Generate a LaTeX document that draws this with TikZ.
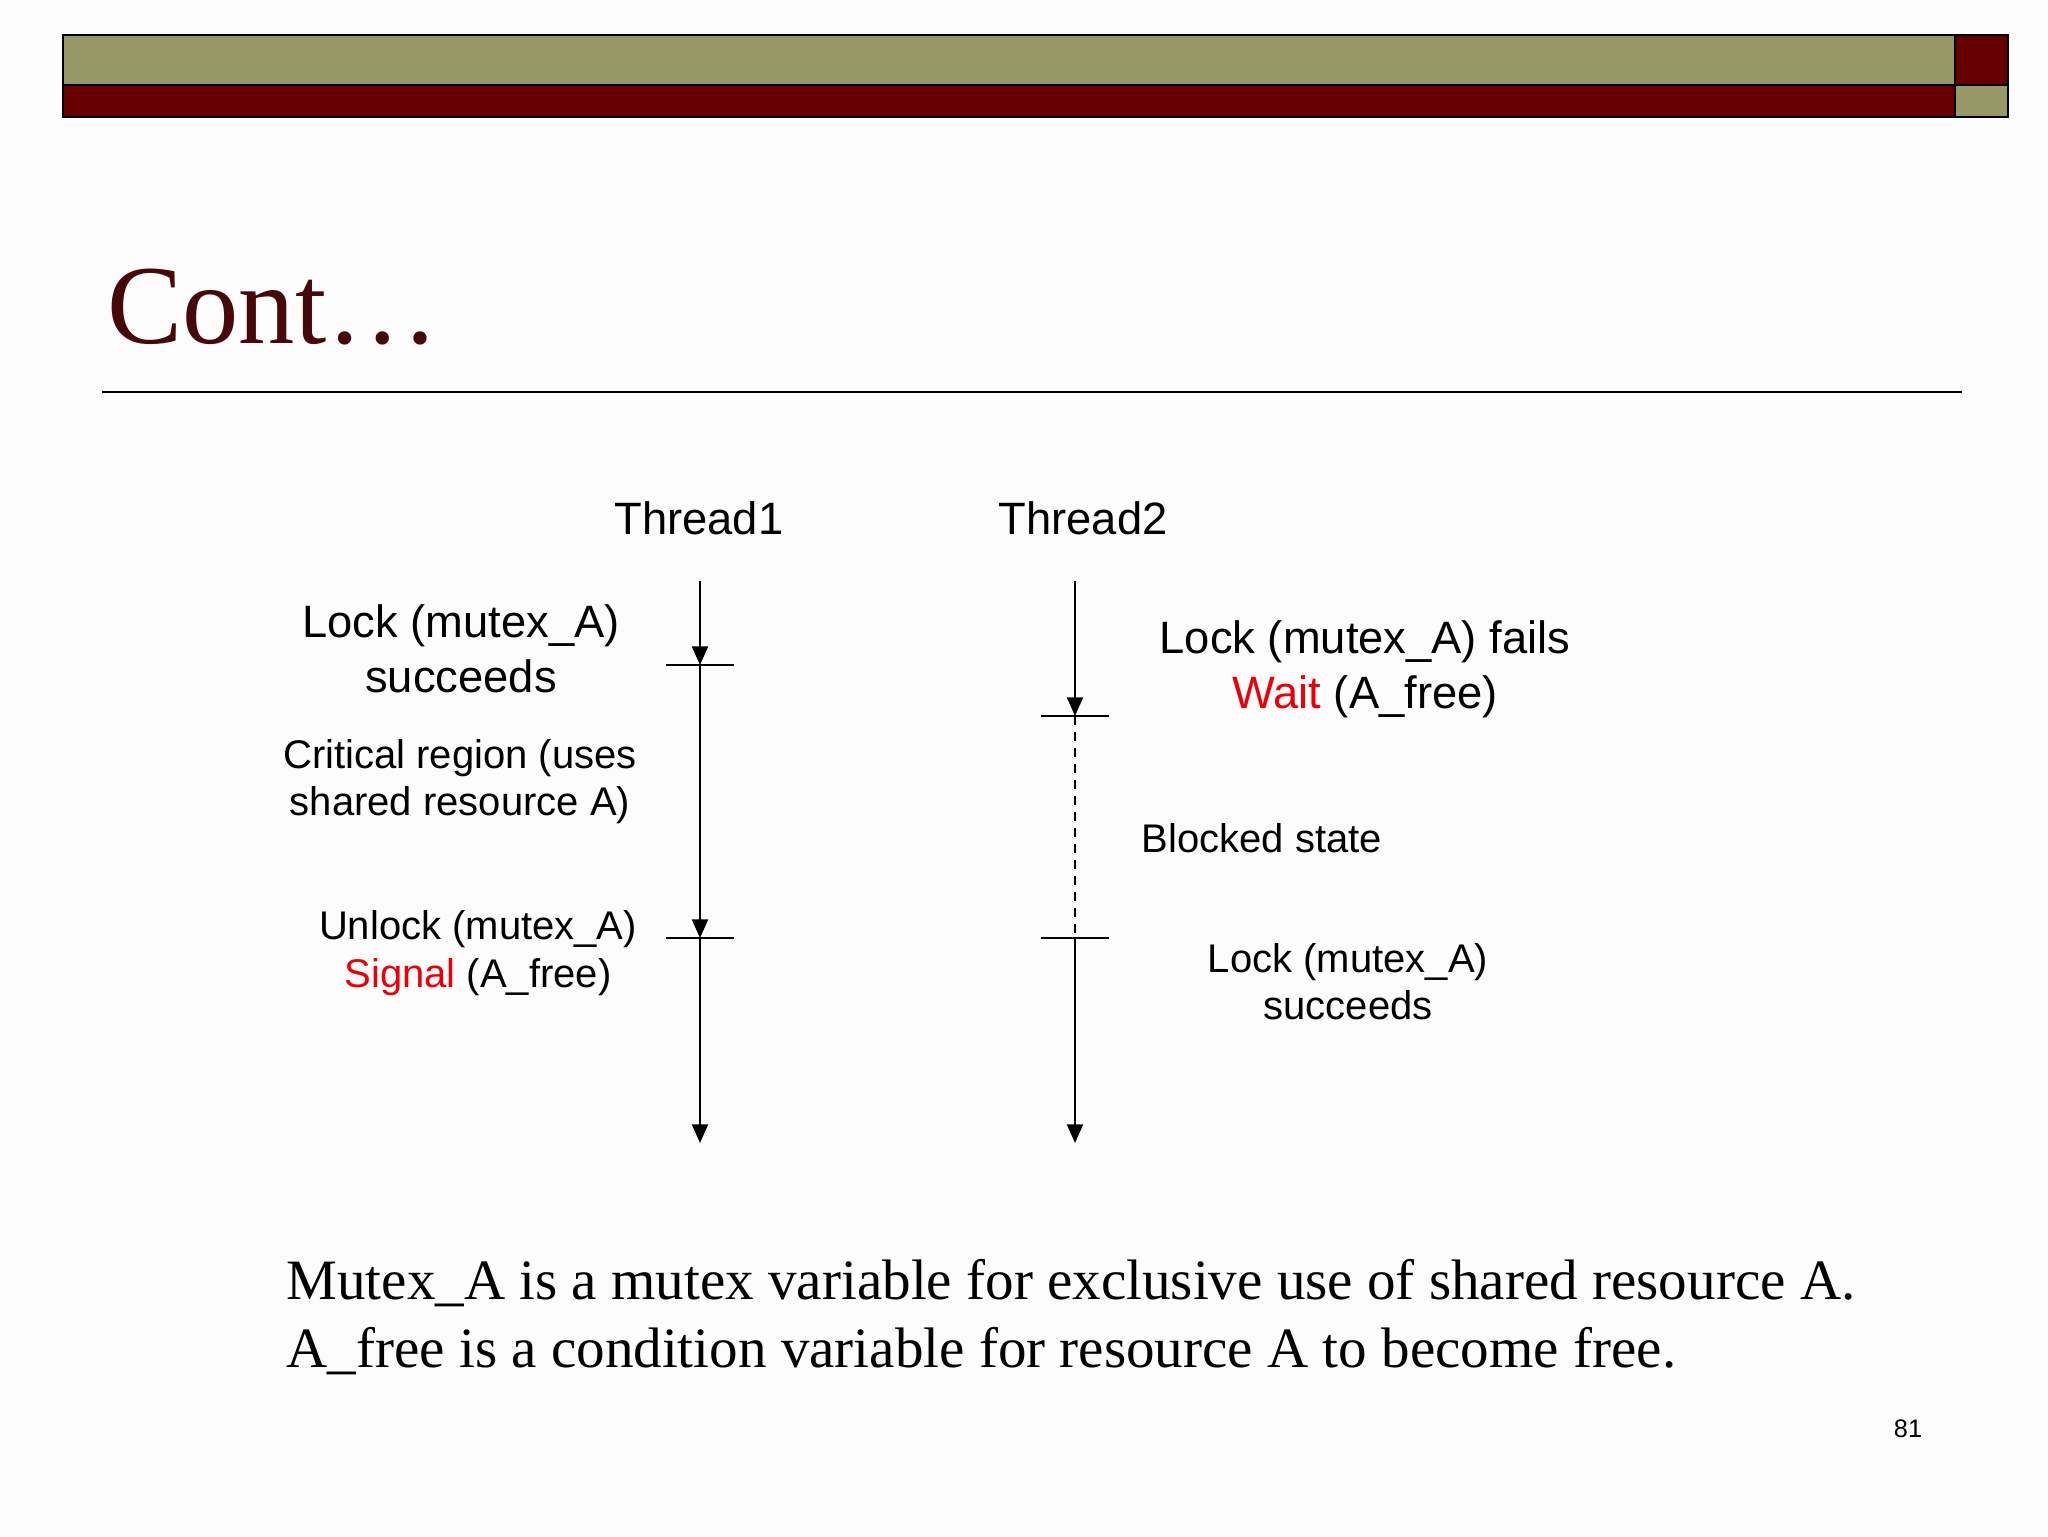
\documentclass[tikz,border=0pt]{standalone}
\usepackage{fontspec}
\setmainfont{Liberation Serif}
\setsansfont{Liberation Sans}
\usetikzlibrary{arrows.meta}

\definecolor{olivebar}{RGB}{150,153,101}
\definecolor{maroonbar}{RGB}{102,0,0}
\definecolor{titlered}{RGB}{70,8,8}
\definecolor{signalred}{RGB}{235,0,10}

\tikzset{
  timeline/.style={line width=0.8pt, -{Triangle[length=7pt,width=6pt]}},
  tick/.style={line width=0.8pt},
  lbl/.style={font=\sffamily\fontsize{15pt}{17.6pt}\selectfont, align=center, inner sep=0pt},
  biglbl/.style={font=\sffamily\fontsize{17pt}{20.5pt}\selectfont, align=center, inner sep=0pt},
}

\begin{document}
\begin{tikzpicture}[x=0.375pt,y=0.375pt,yscale=-1,xscale=1]
\useasboundingbox (0,0) rectangle (2048,1536);
\fill [white!98!gray] (0,0) rectangle (2048,1536);

% --- 1. header bars ---
\draw [fill=olivebar, line width=1.1pt] (63,35) rectangle (1955,85);
\draw [fill=maroonbar, line width=1.1pt] (63,85) rectangle (1955,117);
\draw [fill=maroonbar, line width=1.1pt] (1955,35) rectangle (2008,85);
\draw [fill=olivebar, line width=1.1pt] (1955,85) rectangle (2008,117);

% --- 2. title and rule ---
\node (title) [anchor=base west, inner sep=0pt, text=titlered,
  font=\fontsize{42.2pt}{50pt}\selectfont] at (107,343) {Cont…};
\draw [line width=0.8pt] (102,392) -- (1962,392);

% --- 3. thread time lines ---
\node (thr1) [biglbl] at (699,518) {Thread1};
\node (thr2) [biglbl] at (1083,518) {Thread2};

\coordinate (t1top) at (700,581);
\coordinate (t1a) at (700,665);
\coordinate (t1b) at (700,938);
\coordinate (t1end) at (700,1143);
\coordinate (t2top) at (1075,581);
\coordinate (t2a) at (1075,716);
\coordinate (t2b) at (1075,938);
\coordinate (t2end) at (1075,1143);

\draw [timeline] (t1top) -- (t1a);
\draw [timeline] (t1a) -- (t1b);
\draw [timeline] (t1b) -- (t1end);
\draw [timeline] (t2top) -- (t2a);
\draw [line width=0.8pt, dash pattern=on 3.5pt off 2.5pt] (t2a) -- (t2b);
\draw [timeline] (t2b) -- (t2end);

% ticks
\draw [tick] (t1a) ++(-34,0) -- ++(68,0);
\draw [tick] (t1b) ++(-34,0) -- ++(68,0);
\draw [tick] (t2a) ++(-34,0) -- ++(68,0);
\draw [tick] (t2b) ++(-34,0) -- ++(68,0);

% --- 4. event labels ---
\node (lock1) [biglbl] at (461,649) {Lock (mutex\_A)\\succeeds};
\node (crit) [lbl] at (460,782) {Critical region (uses\\shared resource A)};
\node (unlock) [lbl, font=\sffamily\fontsize{15pt}{18.2pt}\selectfont] at (478,953) {Unlock (mutex\_A)\\\textcolor{signalred}{Signal} (A\_free)};
\node (fail2) [biglbl] at (1365,669) {Lock (mutex\_A) fails\\\textcolor{signalred}{Wait} (A\_free)};
\node (blocked) [lbl] at (1262,838) {Blocked state};
\node (lock2) [lbl] at (1348,982) {Lock (mutex\_A)\\succeeds};

% --- 5. note and page number ---
\node (note) [anchor=west, align=left, inner sep=0pt,
  font=\fontsize{21.4pt}{25.2pt}\selectfont] at (286,1317)
  {Mutex\_A is a mutex variable for exclusive use of shared resource A.\\
   A\_free is a condition variable for resource A to become free.};
\node (pagenum) [font=\sffamily\fontsize{9.5pt}{11pt}\selectfont, inner sep=0pt] at (1908,1429) {81};

\end{tikzpicture}
\end{document}
